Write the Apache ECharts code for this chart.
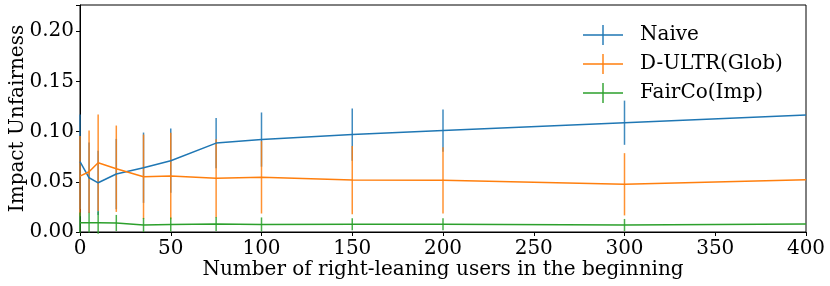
<!DOCTYPE html>
<html><head><meta charset="utf-8">
<script src="https://cdn.jsdelivr.net/npm/echarts@6/dist/echarts.min.js"></script>
<style>html,body{margin:0;padding:0;background:#fff}#c{width:830px;height:286px}</style>
</head><body><div id="c"></div>
<script>
const xs = [0, 5, 10, 20, 35, 50, 75, 100, 150, 200, 300, 400];
const naive = [0.070, 0.054, 0.049, 0.0577, 0.064, 0.071, 0.0885, 0.092, 0.097, 0.101, 0.1088, 0.1164];
const naiveErr = [0.047, 0.035, 0.032, 0.035, 0.035, 0.032, 0.025, 0.027, 0.026, 0.021, 0.022, 0];
const dultr = [0.0557, 0.060, 0.069, 0.063, 0.055, 0.0557, 0.0534, 0.0544, 0.0517, 0.0514, 0.0475, 0.052];
const dultrErr = [0.04, 0.041, 0.048, 0.043, 0.042, 0.043, 0.039, 0.036, 0.034, 0.033, 0.031, 0];
const fairco = [0.0093, 0.0093, 0.0093, 0.009, 0.007, 0.0075, 0.008, 0.0075, 0.0077, 0.0077, 0.007, 0.008];
const faircoErr = [0.01, 0.0098, 0.011, 0.008, 0.007, 0.007, 0.007, 0.007, 0.006, 0.006, 0.006, 0];
const names = ['Naive', 'D-ULTR(Glob)', 'FairCo(Imp)'];
const colors = ['#1f77b4', '#ff7f0e', '#2ca02c'];
const yTicks = ['0.00', '0.05', '0.10', '0.15', '0.20'];

const FONT = 'DejaVu Serif';
const FS = 20;
const chart = echarts.init(document.getElementById('c'), null, {renderer: 'canvas'});
const icon = 'path://M0,9.3h40v1.4h-40z M19.3,0h1.4v20h-1.4z';

function errSeries(name, vals, errs, color) {
  return {
    name: name, type: 'custom', z: 3,
    data: xs.map((x, i) => [x, vals[i] - errs[i], vals[i] + errs[i]]),
    renderItem: function (params, api) {
      const lo = api.coord([api.value(0), api.value(1)]);
      const hi = api.coord([api.value(0), api.value(2)]);
      return {type: 'line', shape: {x1: lo[0], y1: lo[1], x2: hi[0], y2: hi[1]},
        style: {stroke: color, lineWidth: 1.5, opacity: 0.85}};
    }
  };
}
function lineSeries(name, vals, color) {
  return {name: name, type: 'line', data: xs.map((x, i) => [x, vals[i]]), z: 4,
    symbol: 'none', lineStyle: {color: color, width: 1.5}, itemStyle: {color: color}};
}

const series = [
  errSeries(names[0], naive, naiveErr, colors[0]), lineSeries(names[0], naive, colors[0]),
  errSeries(names[1], dultr, dultrErr, colors[1]), lineSeries(names[1], dultr, colors[1]),
  errSeries(names[2], fairco, faircoErr, colors[2]), lineSeries(names[2], fairco, colors[2])
];

chart.setOption({
  animation: false,
  color: colors,
  grid: {left: 80, right: 24, top: 5, bottom: 54, containLabel: false, outerBoundsMode: 'none',
    show: true, borderColor: '#000', borderWidth: 1},
  legend: {
    data: names.map((n, i) => ({name: n, icon: icon, itemStyle: {color: colors[i]}})),
    orient: 'vertical', left: 583, top: 25, padding: 0, itemWidth: 40, itemHeight: 20, itemGap: 9,
    textStyle: {fontFamily: FONT, fontSize: FS, color: '#000', padding: [0, 0, 0, 12]}
  },
  xAxis: {
    type: 'value', min: 0, max: 400, interval: 50,
    name: 'Number of right-leaning users in the beginning', nameLocation: 'middle', nameGap: 28,
    nameMoveOverlap: false,
    nameTextStyle: {fontFamily: FONT, fontSize: FS, color: '#000'},
    axisLine: {lineStyle: {color: '#000'}}, splitLine: {show: false},
    axisTick: {length: 4, lineStyle: {color: '#000'}},
    axisLabel: {fontFamily: FONT, fontSize: FS, color: '#000', margin: 7}
  },
  yAxis: {
    type: 'value', min: 0, max: 0.226, interval: 0.05,
    name: 'Impact Unfairness', nameLocation: 'middle', nameGap: 52,
    nameMoveOverlap: false,
    nameTextStyle: {fontFamily: FONT, fontSize: FS, color: '#000'},
    axisLine: {show: true, lineStyle: {color: '#000'}}, splitLine: {show: false},
    axisTick: {show: true, length: 4, lineStyle: {color: '#000'}},
    axisLabel: {fontFamily: FONT, fontSize: FS, color: '#000', margin: 6,
      formatter: v => yTicks[Math.round(v / 0.05)] !== undefined ? yTicks[Math.round(v / 0.05)] : ''}
  },
  series: series
});
</script></body></html>
